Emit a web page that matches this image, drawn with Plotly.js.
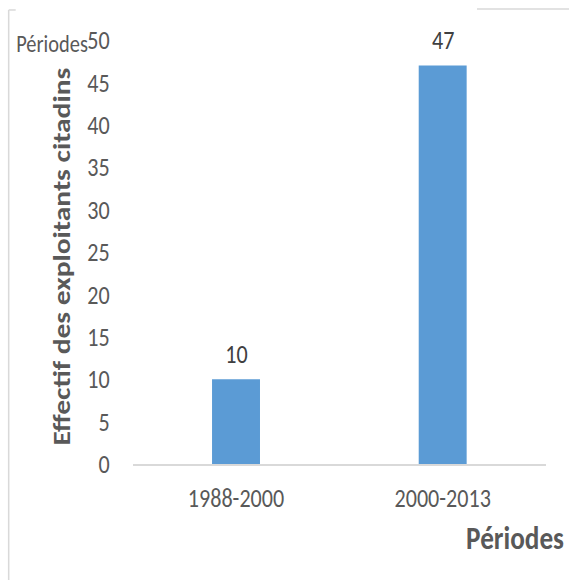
<!DOCTYPE html>
<html>
<head>
<meta charset="utf-8">
<script src="https://cdn.plot.ly/plotly-3.0.1.min.js"></script>
<style>
html,body{margin:0;padding:0;background:#fff;overflow:hidden;}
#wrap{width:569px;height:580px;overflow:hidden;}
#chart{width:669px;height:580px;transform:scaleX(0.8505);transform-origin:0 0;}
</style>
</head>
<body>
<div id="wrap"><div id="chart"></div></div>
<script>
const categories = ["1988-2000", "2000-2013"];
const values = [10, 47];
const yTicks = [0, 5, 10, 15, 20, 25, 30, 35, 40, 45, 50];
const yTitle = "Effectif des exploitants citadins";
const xTitle = "Périodes";
const cornerLabel = "Périodes";

const FONT = "Carlito, 'Open Sans', 'Noto Sans', sans-serif";
const frame = "#d9d9d9";

const trace = {
  type: "bar",
  x: categories,
  y: values,
  marker: {color: "#5b9bd5"},
  width: 0.232,
  hoverinfo: "skip"
};

const labelAnnotations = categories.map((c, i) => ({
  x: c, y: values[i], xref: "x", yref: "y",
  text: String(values[i]), showarrow: false,
  yanchor: "middle", yshift: 25,
  font: {family: FONT, size: 26, color: "#404040"}
}));

const layout = {
  width: 669, height: 580,
  margin: {l: 156, r: 27, t: 40, b: 116},
  paper_bgcolor: "#fff", plot_bgcolor: "#fff",
  showlegend: false,
  xaxis: {
    type: "category",
    showgrid: false, zeroline: false,
    showline: true, linecolor: frame, linewidth: 1.5,
    ticks: "", tickfont: {family: FONT, size: 26, color: "#595959"},
    ticklabelstandoff: 10
  },
  yaxis: {
    range: [0, 50],
    tickvals: yTicks,
    showgrid: false, zeroline: false, showline: false,
    ticks: "", tickfont: {family: FONT, size: 26, color: "#595959"},
    ticklabelstandoff: 26
  },
  annotations: labelAnnotations.concat([
    {text: "<b>" + yTitle + "</b>", xref: "paper", yref: "paper",
     x: -0.172, y: 0.49, xanchor: "center", yanchor: "middle", textangle: -90,
     showarrow: false, font: {family: FONT, size: 29.5, color: "#595959"}},
    {text: "<b>" + xTitle + "</b>", xref: "paper", yref: "paper",
     x: 1.048, y: -0.175, xanchor: "right", yanchor: "middle",
     showarrow: false, font: {family: FONT, size: 32, color: "#595959"}},
    {text: cornerLabel, xref: "paper", yref: "paper",
     x: -0.285, y: 0.992, xanchor: "left", yanchor: "middle",
     showarrow: false, font: {family: FONT, size: 24, color: "#595959"}}
  ]),
  shapes: [
    {type: "line", xref: "paper", yref: "paper", x0: -0.300, x1: -0.300, y0: 1.0708, y1: -0.30, line: {color: frame, width: 1.8}},
    {type: "line", xref: "paper", yref: "paper", x0: -0.300, x1: -0.283, y0: 1.0708, y1: 1.0708, line: {color: frame, width: 1.5}},
    {type: "line", xref: "paper", yref: "paper", x0: 0.833, x1: 1.06, y0: 1.0731, y1: 1.0731, line: {color: frame, width: 1.5}}
  ]
};

Plotly.newPlot("chart", [trace], layout, {displayModeBar: false, staticPlot: true});
</script>
</body>
</html>
